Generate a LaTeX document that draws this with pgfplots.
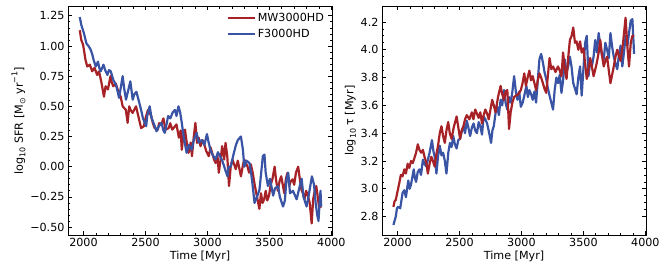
\documentclass[border=0pt]{standalone}
\usepackage{fontspec}
\setmainfont{DejaVu Sans}
\usepackage{pgfplots}
\pgfplotsset{compat=1.18}
\definecolor{cred}{RGB}{166,34,38}
\definecolor{cblue}{RGB}{58,84,165}
\newcommand\fs{\fontsize{11.2}{13.4}\selectfont}
\newcommand\sbs[1]{\raisebox{-0.4ex}{\fontsize{8}{8}\selectfont #1}}
\newcommand\sps[1]{\raisebox{0.9ex}{\fontsize{8}{8}\selectfont #1}}
\pgfplotsset{
  mystyle/.style={
    scale only axis, width=264bp, height=228.5bp,
    xmin=1875, xmax=4005,
    axis line style={line width=0.8bp},
    tick align=inside, tick pos=both,
    major tick length=4bp, minor tick length=2.2bp,
    every tick/.style={line width=0.7bp, black},
    xtick={2000,2500,3000,3500,4000},
    xticklabels={2000,2500,3000,3500,4000},
    minor x tick num=4,
    tick label style={font=\fs},
    label style={font=\fs},
    xlabel={Time [Myr]},
    xlabel style={yshift=3bp},
    /pgf/number format/assume math mode=true,
    every axis plot/.append style={line width=2.2bp, line join=round, mark=none},
  }
}
\begin{document}
\begin{tikzpicture}
\path[use as bounding box] (-68bp,-40bp) rectangle (596bp,235bp);
\begin{axis}[mystyle,
  ymin=-0.566, ymax=1.327,
  ytick={-0.5,-0.25,0,0.25,0.5,0.75,1,1.25},
  yticklabels={−0.50,−0.25,0.00,0.25,0.50,0.75,1.00,1.25},
  minor y tick num=4,
  ylabel={log\sbs{10} SFR [M\sbs{⊙} yr\sps{−1}]},
  ylabel style={yshift=-2bp},
  legend style={at={(axis description cs:0.985,0.99)}, anchor=north east, draw=none, fill=none, font=\fs, row sep=2.5bp, inner sep=2bp},
  legend cell align=left,
  legend image code/.code={\draw[#1, line width=2.2bp] (0bp,0bp) -- (27bp,0bp);},
]
\addplot[cred] coordinates {
(1970,1.13)(1982,1.05)(1997,1.01)(2016,0.886)(2030,0.83)(2051,0.845)(2070,0.79)(2089,0.82)(2110,0.76)(2125,0.79)
(2143,0.707)(2153,0.65)(2165,0.58)(2178,0.666)(2197,0.64)(2218,0.75)(2228,0.70)(2240,0.666)(2260,0.69)(2286,0.61)
(2300,0.58)(2316,0.50)(2342,0.47)(2356,0.363)(2369,0.50)(2380,0.47)(2396,0.445)(2424,0.50)(2442,0.42)(2465,0.32)
(2487,0.335)(2500,0.40)(2520,0.47)(2546,0.42)(2560,0.36)(2574,0.32)(2600,0.307)(2610,0.36)(2628,0.35)(2645,0.40)
(2661,0.307)(2688,0.32)(2700,0.36)(2716,0.307)(2750,0.35)(2770,0.24)(2784,0.30)(2793,0.14)(2805,0.25)(2819,0.307)
(2830,0.22)(2848,0.115)(2865,0.20)(2875,0.087)(2890,0.25)(2903,0.363)(2916,0.197)(2930,0.24)(2944,0.17)(2960,0.22)
(2971,0.197)(2990,0.13)(3011,0.087)(3025,0.16)(3038,0.115)(3053,0.06)(3066,0.03)(3080,0.10)(3092,-0.05)(3105,0.05)
(3119,0.17)(3135,0.06)(3146,0.197)(3160,0.087)(3174,-0.16)(3188,0.0)(3201,0.06)(3215,0.02)(3228,-0.02)(3245,0.05)
(3270,-0.08)(3284,0.0)(3297,0.06)(3310,0.03)(3324,0.0)(3336,-0.05)(3350,0.02)(3365,-0.05)(3383,-0.16)(3400,-0.25)
(3419,-0.35)(3432,-0.22)(3445,-0.30)(3458,-0.27)(3470,-0.20)(3483,-0.28)(3497,-0.24)(3510,-0.15)(3525,-0.10)(3542,0.0)
(3555,-0.12)(3568,-0.20)(3582,-0.12)(3595,-0.08)(3608,-0.15)(3620,-0.22)(3633,-0.10)(3646,-0.05)(3660,-0.16)(3673,-0.12)
(3687,-0.105)(3700,-0.15)(3714,-0.05)(3732,0.0)(3745,-0.10)(3758,-0.19)(3770,-0.22)(3783,-0.27)(3796,-0.20)(3810,-0.24)
(3825,-0.30)(3841,-0.47)(3853,-0.27)(3866,-0.20)(3878,-0.16)(3890,-0.25)(3900,-0.33)(3908,-0.30)(3914,-0.34)
};
\addlegendentry{MW3000HD}
\addplot[cblue] coordinates {
(1970,1.24)(1982,1.176)(2003,1.107)(2024,1.02)(2040,1.00)(2058,0.97)(2071,0.93)(2083,0.88)(2099,0.83)(2117,0.87)
(2127,0.82)(2139,0.79)(2161,0.845)(2175,0.80)(2193,0.76)(2206,0.80)(2220,0.79)(2240,0.72)(2261,0.68)(2276,0.62)
(2287,0.57)(2300,0.65)(2316,0.75)(2328,0.65)(2343,0.555)(2358,0.62)(2378,0.707)(2397,0.555)(2410,0.60)(2427,0.62)
(2445,0.55)(2465,0.47)(2480,0.40)(2506,0.335)(2514,0.42)(2534,0.50)(2550,0.40)(2570,0.35)(2589,0.293)(2605,0.33)
(2629,0.363)(2645,0.30)(2656,0.28)(2670,0.35)(2683,0.42)(2700,0.40)(2720,0.45)(2738,0.47)(2750,0.42)(2766,0.50)
(2780,0.45)(2793,0.363)(2808,0.25)(2832,0.115)(2850,0.18)(2873,0.14)(2890,0.22)(2913,0.28)(2930,0.20)(2955,0.22)
(2975,0.18)(2996,0.27)(3010,0.20)(3024,0.14)(3040,0.10)(3066,0.06)(3085,0.12)(3101,0.087)(3120,0.05)(3145,-0.03)
(3162,-0.08)(3170,0.0)(3188,0.0)(3210,0.10)(3230,0.18)(3245,0.22)(3270,0.25)(3285,0.15)(3298,0.0)(3315,0.05)
(3339,0.03)(3352,-0.05)(3364,-0.15)(3380,-0.30)(3400,-0.25)(3420,-0.19)(3447,0.087)(3460,0.10)(3470,-0.05)(3488,-0.16)
(3505,-0.10)(3530,-0.24)(3545,-0.18)(3570,-0.16)(3584,-0.25)(3610,-0.33)(3625,-0.28)(3638,-0.10)(3652,-0.05)(3666,-0.22)
(3690,-0.20)(3720,-0.27)(3745,-0.16)(3760,-0.10)(3775,-0.25)(3800,-0.33)(3815,-0.25)(3843,-0.08)(3860,-0.15)(3873,-0.30)
(3886,-0.40)(3896,-0.45)(3905,-0.30)(3912,-0.20)(3918,-0.33)
};
\addlegendentry{F3000HD}
\end{axis}
\begin{axis}[mystyle, at={(314bp,0bp)},
  ymin=2.668, ymax=4.311,
  ytick={2.8,3.0,3.2,3.4,3.6,3.8,4.0,4.2},
  yticklabels={2.8,3.0,3.2,3.4,3.6,3.8,4.0,4.2},
  minor y tick num=3,
  ylabel={log\sbs{10} τ [Myr]},
  ylabel style={yshift=-2bp},
]
\addplot[cblue] coordinates {
(1967,2.74)(1986,2.80)(1996,2.86)(2005,2.87)(2022,2.86)(2041,2.97)(2055,2.99)(2068,2.94)(2087,3.06)(2098,3.00)(2109,3.03)(2131,3.14)
(2140,3.08)(2150,3.05)(2163,3.12)(2177,3.14)(2190,3.10)(2205,3.21)(2218,3.18)(2232,3.16)(2259,3.26)(2278,3.35)(2290,3.27)(2300,3.23)(2314,3.11)(2328,3.24)(2341,3.31)(2355,3.24)(2368,3.26)
(2382,3.20)(2395,3.11)(2410,3.26)(2423,3.33)(2436,3.30)(2450,3.38)(2463,3.32)(2477,3.29)(2490,3.35)(2505,3.36)(2518,3.41)(2532,3.45)(2545,3.40)(2559,3.49)(2572,3.44)(2586,3.38)(2600,3.44)(2614,3.47)(2627,3.42)(2641,3.40)
(2655,3.48)(2668,3.45)(2682,3.39)(2695,3.52)(2709,3.50)(2723,3.47)(2740,3.40)(2755,3.33)(2766,3.42)(2777,3.45)(2792,3.55)(2805,3.59)(2818,3.53)(2832,3.64)(2845,3.60)(2859,3.71)(2872,3.62)(2886,3.57)(2900,3.66)(2914,3.62)
(2927,3.70)(2941,3.81)(2955,3.70)(2968,3.64)(2982,3.70)(2995,3.59)(3010,3.62)(3023,3.67)(3040,3.74)(3052,3.66)(3064,3.71)(3078,3.68)(3091,3.64)(3105,3.70)(3118,3.62)(3132,3.78)(3145,3.93)(3159,3.97)(3173,3.91)
(3186,3.84)(3200,3.79)(3214,3.72)(3227,3.67)(3241,3.62)(3255,3.57)(3268,3.71)(3282,3.80)(3295,3.76)(3309,3.82)(3323,3.69)(3336,3.78)(3350,3.93)(3364,3.84)(3377,3.88)(3391,3.95)(3404,3.88)(3418,3.76)
(3432,3.72)(3445,3.68)(3459,3.80)(3473,3.88)(3486,3.67)(3500,3.86)(3514,4.05)(3527,4.10)(3541,3.81)(3555,3.92)(3568,3.88)(3582,3.95)(3595,4.07)(3609,3.98)(3623,4.12)(3636,4.03)
(3650,3.96)(3664,3.93)(3677,4.05)(3691,4.00)(3705,3.94)(3718,4.12)(3732,4.02)(3745,3.95)(3759,3.90)(3773,3.86)(3786,3.96)(3800,4.03)(3814,3.88)(3827,3.98)(3841,4.10)(3855,4.03)(3868,4.12)(3882,4.21)
(3895,4.22)(3909,3.97)
};
\addplot[cred] coordinates {
(1967,2.87)(1976,2.91)(1986,2.92)(2000,2.98)(2014,3.04)(2027,3.10)(2041,3.09)(2055,3.14)(2068,3.11)(2082,3.18)(2095,3.15)(2109,3.20)(2123,3.185)(2136,3.22)(2150,3.26)(2164,3.32)(2177,3.28)(2191,3.26)
(2205,3.28)(2218,3.23)(2232,3.19)(2245,3.11)(2259,3.18)(2273,3.23)(2286,3.20)(2300,3.16)(2314,3.25)(2327,3.31)(2341,3.40)(2355,3.45)(2368,3.38)(2382,3.33)(2395,3.42)(2409,3.48)(2422,3.40)(2436,3.36)(2456,3.45)(2477,3.52)
(2491,3.44)(2505,3.36)(2518,3.42)(2532,3.45)(2545,3.50)(2559,3.53)(2580,3.50)(2600,3.55)(2613,3.50)(2627,3.57)(2641,3.54)(2655,3.51)(2668,3.55)(2682,3.47)(2695,3.53)(2709,3.57)(2723,3.54)(2736,3.50)(2750,3.57)(2764,3.64)
(2777,3.60)(2791,3.55)(2811,3.66)(2832,3.74)(2845,3.68)(2859,3.64)(2872,3.70)(2886,3.71)(2900,3.43)(2913,3.55)(2927,3.62)(2941,3.66)(2955,3.67)(2975,3.68)(2995,3.71)(3009,3.76)(3023,3.83)(3036,3.74)
(3050,3.80)(3064,3.85)(3077,3.78)(3091,3.81)(3105,3.76)(3118,3.71)(3132,3.78)(3145,3.83)(3159,3.80)(3173,3.76)(3186,3.72)(3200,3.69)(3214,3.82)(3227,3.94)(3241,3.86)(3255,3.88)(3275,3.84)(3295,3.88)(3309,3.85)(3323,3.81)
(3336,3.98)(3350,3.86)(3364,3.79)(3377,3.94)(3391,4.07)(3405,4.10)(3418,4.16)(3432,4.05)(3445,4.06)(3459,4.00)(3473,4.06)(3486,3.98)(3500,4.01)(3514,3.90)(3527,3.79)(3541,3.86)(3555,3.94)
(3568,3.88)(3582,3.81)(3596,3.86)(3609,3.91)(3623,3.98)(3636,4.07)(3650,3.96)(3664,3.88)(3677,3.92)(3691,3.95)(3705,3.85)(3718,3.76)(3732,3.82)(3745,3.88)(3759,3.95)(3773,4.00)(3786,3.96)(3800,3.92)(3820,4.05)(3840,4.23)
(3855,4.02)(3868,3.88)(3882,4.05)(3895,4.10)(3909,4.10)
};
\end{axis}
\end{tikzpicture}
\end{document}
